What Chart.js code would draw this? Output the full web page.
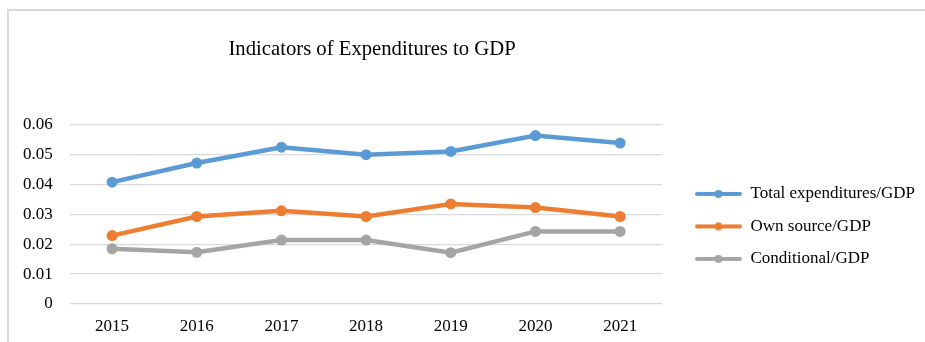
<!DOCTYPE html>
<html>
<head>
<meta charset="utf-8">
<script src="https://cdn.jsdelivr.net/npm/chart.js@4/dist/chart.umd.min.js"></script>
<style>
  html, body { margin: 0; padding: 0; background: #fff; }
  #wrap { position: relative; width: 925px; height: 342px; overflow: hidden; }
  #frame { position: absolute; left: 7px; top: 9px; right: -5px; bottom: -5px;
           border-left: 2px solid #d9d9d9; border-top: 2px solid #d9d9d9; pointer-events: none; }
  canvas { position: absolute; left: 0; top: 0; }
</style>
</head>
<body>
<div id="wrap">
  <canvas id="c" width="925" height="342"></canvas>
  <div id="frame"></div>
</div>
<script>
const categories = ['2015', '2016', '2017', '2018', '2019', '2020', '2021'];
const totalExpenditures = [0.0408, 0.0472, 0.0525, 0.0500, 0.0511, 0.0564, 0.0539];
const ownSource = [0.0229, 0.0293, 0.0312, 0.0293, 0.0335, 0.0323, 0.0293];
const conditional = [0.0185, 0.0173, 0.0214, 0.0214, 0.0172, 0.0243, 0.0243];
const yTickLabels = ['0', '0.01', '0.02', '0.03', '0.04', '0.05', '0.06'];
const seriesNames = ['Total expenditures/GDP', 'Own source/GDP', 'Conditional/GDP'];
const seriesColors = ['#5b9bd5', '#ed7d31', '#a5a5a5'];

const FONT = '"Liberation Serif", "Times New Roman", serif';

function legendSwatch(color) {
  const cv = document.createElement('canvas');
  cv.width = 64; cv.height = 12;
  const g = cv.getContext('2d');
  g.strokeStyle = color; g.lineWidth = 4; g.lineCap = 'round';
  g.beginPath(); g.moveTo(19, 6); g.lineTo(62, 6); g.stroke();
  g.fillStyle = color;
  g.beginPath(); g.arc(40.5, 6, 4, 0, Math.PI * 2); g.fill();
  return cv;
}
const swatches = seriesColors.map(legendSwatch);

function makeDataset(name, values, color) {
  return {
    label: name,
    data: values,
    borderColor: color,
    backgroundColor: color,
    borderWidth: 4.5,
    pointRadius: 5.5,
    pointHoverRadius: 5.5,
    pointBackgroundColor: color,
    pointBorderColor: color,
    pointBorderWidth: 0,
    tension: 0,
    fill: false
  };
}

const titleShift = {
  id: 'titleShift',
  afterLayout(chart) {
    const t = chart.titleBlock;
    if (t) { t.left += 6; t.right += 6; }
  }
};

new Chart(document.getElementById('c'), {
  type: 'line',
  plugins: [titleShift],
  data: {
    labels: categories,
    datasets: [
      makeDataset(seriesNames[0], totalExpenditures, seriesColors[0]),
      makeDataset(seriesNames[1], ownSource, seriesColors[1]),
      makeDataset(seriesNames[2], conditional, seriesColors[2])
    ]
  },
  options: {
    responsive: false,
    devicePixelRatio: 1,
    animation: false,
    layout: { autoPadding: false, padding: { left: 6, right: 0, top: 10, bottom: 0 } },
    plugins: {
      title: {
        display: true,
        fullSize: false,
        text: 'Indicators of Expenditures to GDP',
        color: '#000',
        font: { family: FONT, size: 20.7, weight: 'normal', lineHeight: 1.2 },
        padding: { top: 27, bottom: 63 }
      },
      legend: {
        display: true,
        position: 'right',
        fullSize: false,
        align: 'center',
        maxWidth: 400,
        title: { display: true, text: ' ', font: { size: 2, lineHeight: 1 }, padding: 11 },
        labels: {
          color: '#000',
          font: { family: FONT, size: 17 },
          padding: 15.5,
          usePointStyle: true,
          pointStyleWidth: 64,
          generateLabels: (chart) => {
            const items = Chart.defaults.plugins.legend.labels.generateLabels(chart);
            items.forEach((it, i) => { it.pointStyle = swatches[i]; });
            return items;
          }
        }
      },
      tooltip: { enabled: false }
    },
    scales: {
      x: {
        offset: true,
        grid: { display: false, drawTicks: false },
        border: { display: false },
        ticks: { color: '#000', font: { family: FONT, size: 17 }, padding: 12.3, maxRotation: 0 },
        afterFit: (scale) => { scale.height = 38; }
      },
      y: {
        min: 0,
        max: 0.06,
        grid: { color: '#d9d9d9', lineWidth: 1.3, drawTicks: false },
        border: { display: false },
        ticks: {
          stepSize: 0.01,
          color: '#000',
          font: { family: FONT, size: 17 },
          padding: 17,
          callback: (v, i) => yTickLabels[i]
        }
      }
    }
  }
});
</script>
</body>
</html>
